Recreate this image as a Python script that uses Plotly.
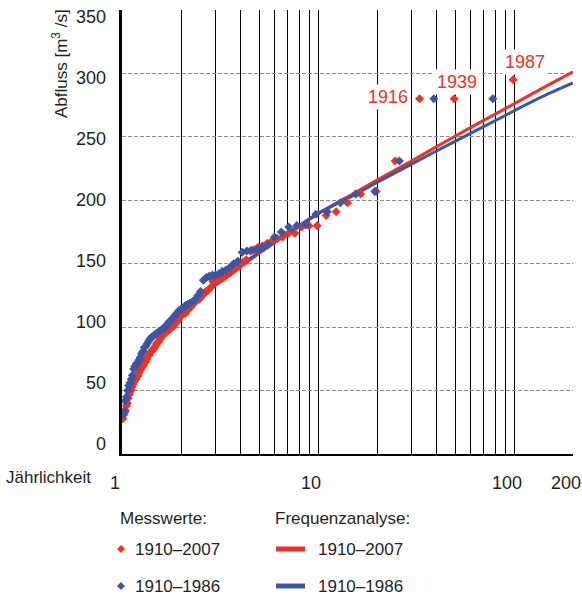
import numpy as np
import plotly.graph_objects as go

# Annual flood peaks (m3/s), sorted from largest to smallest
q_1910_2007 = [295, 280, 280, 231, 207, 205, 198, 191, 188, 180, 180, 179, 174, 174, 171, 170,
               168, 166, 164, 163, 161, 160, 153, 151, 150, 147, 145.5, 144.5, 143, 140.5, 138.5,
               137.5, 137, 136, 131, 129, 128, 126, 124, 122, 121, 120, 118, 116, 115, 113, 111,
               111, 110, 108, 106, 104, 103, 101, 100, 99, 98, 97, 96, 95, 94, 93, 91, 89, 88, 87,
               85, 83, 82, 81, 80, 78, 77, 75, 73, 72, 70, 69, 67, 66, 64, 62, 61, 59, 58, 57, 55,
               53, 51, 49, 47, 44, 40, 38, 34, 33, 31, 28]
q_1910_1986 = [280, 280, 231, 207, 205, 198, 191, 189, 180.5, 180, 179, 175, 171, 165, 163, 161,
               160.5, 160, 159, 152, 150, 147, 145, 144, 142, 141, 141, 140, 139, 137, 128, 125,
               122, 120, 119, 118, 117, 115, 114, 113, 111, 109, 107, 105, 104, 102, 100, 99, 98,
               97, 96, 95, 94, 93, 92, 91, 89, 87, 85, 84, 81, 79, 76, 74, 72, 71, 69, 67, 62, 59,
               56, 54, 50, 45, 42, 34, 31]

# Fitted frequency curves: return period (years) -> discharge (m3/s)
fit_t_2007 = [2.72, 3, 3.5, 4, 5, 6, 8, 10, 15, 20, 30, 50, 70, 100, 150, 200]
fit_q_2007 = [129, 133, 140, 147, 158, 166.5, 179.5, 189.5, 205, 216, 231, 250.5, 263, 276, 291, 301.2]
fit_t_1986 = [2.8, 3, 3.5, 4, 5, 6, 8, 10, 15, 20, 30, 50, 70, 100, 150, 200]
fit_q_1986 = [132, 134.5, 141.5, 148.5, 159, 167.5, 180, 189.5, 203.5, 214, 228.5, 246.5, 258, 270.5, 284, 292.5]

# Labelled flood years (rank in the 1910-2007 series)
flood_years = ["1987", "1939", "1916"]

x_ticks = [1, 10, 100, 200]
x_tick_text = ["1", "10", "100", "200"]
x_minor = [2, 3, 4, 5, 6, 7, 8, 9, 20, 30, 40, 50, 60, 70, 80, 90]
y_ticks = [0, 50, 100, 150, 200, 250, 300, 350]

RED = "#EE3224"
BLUE = "#3C55A5"
INK = "#231F20"
FONT = "Liberation Sans, Arial, sans-serif"


def return_period(values):
    """Weibull plotting position T = (n + 1) / rank for a descending series."""
    n = len(values)
    return [(n + 1) / rank for rank in range(1, n + 1)]


t_2007 = return_period(q_1910_2007)
t_1986 = return_period(q_1910_1986)

W, H = 582, 595
ML, MR, MT, MB = 122, 9, 10, 141
PW, PH = W - ML - MR, H - MT - MB


def px_x(px):
    return (px - ML) / PW


def px_y(py):
    return 1 - (py - MT) / PH


fig = go.Figure()

fig.add_trace(go.Scatter(x=fit_t_2007, y=fit_q_2007, mode="lines",
                         line=dict(color=RED, width=3, shape="spline", smoothing=0.6),
                         showlegend=False, hoverinfo="skip"))
fig.add_trace(go.Scatter(x=fit_t_1986, y=fit_q_1986, mode="lines",
                         line=dict(color=BLUE, width=3, shape="spline", smoothing=0.6),
                         showlegend=False, hoverinfo="skip"))
fig.add_trace(go.Scatter(x=t_2007, y=q_1910_2007, mode="markers",
                         marker=dict(symbol="diamond", size=7, color=RED),
                         showlegend=False))
fig.add_trace(go.Scatter(x=t_1986, y=q_1910_1986, mode="markers",
                         marker=dict(symbol="diamond", size=7, color=BLUE),
                         showlegend=False))
# carrier for the tick-label axis
fig.add_trace(go.Scatter(x=[1], y=[None], yaxis="y2", mode="markers",
                         showlegend=False, hoverinfo="skip"))

annotations = []
# year labels beside the three largest floods
offsets = [dict(xanchor="center", xshift=12, yshift=18),
           dict(xanchor="center", xshift=3, yshift=17),
           dict(xanchor="right", xshift=-9, yshift=2)]
for i, (year, off) in enumerate(zip(flood_years, offsets)):
    annotations.append(dict(x=np.log10(t_2007[i]), y=q_1910_2007[i], xref="x", yref="y",
                            text=year, showarrow=False, yanchor="middle",
                            bgcolor="white", borderpad=2,
                            font=dict(family=FONT, size=18, color=RED),
                            **off))

annotations.append(dict(x=px_x(60), y=px_y(63), xref="paper", yref="paper",
                        text="Abfluss [m<sup>3</sup> /s]", textangle=-90, showarrow=False,
                        xanchor="center", yanchor="middle",
                        font=dict(family=FONT, size=17, color=INK)))
annotations.append(dict(x=px_x(93), y=px_y(477), xref="paper", yref="paper",
                        text="Jährlichkeit", showarrow=False, xanchor="right", yanchor="middle",
                        font=dict(family=FONT, size=17, color=INK)))

# legend: headers, entries and swatches
legend_rows = [(549, RED, "1910–2007"), (586, BLUE, "1910–1986")]
for txt, left in [("Messwerte:", 118), ("Frequenzanalyse:", 273)]:
    annotations.append(dict(x=px_x(left), y=px_y(518), xref="paper", yref="paper", text=txt,
                            showarrow=False, xanchor="left", yanchor="middle",
                            font=dict(family=FONT, size=17, color=INK)))
shapes = []
for row_y, col, label in legend_rows:
    shapes.append(dict(type="path", xref="paper", yref="paper", xsizemode="pixel", ysizemode="pixel",
                       xanchor=px_x(121), yanchor=px_y(row_y), path="M -4 0 L 0 4 L 4 0 L 0 -4 Z",
                       fillcolor=col, line=dict(width=0)))
    shapes.append(dict(type="line", xref="paper", yref="paper", x0=px_x(276), x1=px_x(305),
                       y0=px_y(row_y), y1=px_y(row_y), line=dict(color=col, width=5)))
    for left in (133, 316):
        annotations.append(dict(x=px_x(left), y=px_y(row_y), xref="paper", yref="paper", text=label,
                                showarrow=False, xanchor="left", yanchor="middle",
                                font=dict(family=FONT, size=17, color=INK)))

fig.update_layout(
    width=W, height=H, margin=dict(l=ML, r=MR, t=MT, b=MB),
    paper_bgcolor="white", plot_bgcolor="white",
    template="none", showlegend=False,
    font=dict(family=FONT, size=18, color=INK),
    xaxis=dict(type="log", range=[0, 2.30103], tickvals=x_ticks, ticktext=x_tick_text,
               tickangle=0, showgrid=True, gridcolor="black", gridwidth=1, zeroline=False,
               showline=True, linecolor="black", linewidth=2, ticks="",
               minor=dict(tickvals=x_minor, showgrid=True, gridcolor="black", gridwidth=1, ticks=""),
               ticklabelshift=-7, ticklabelstandoff=11,
               tickfont=dict(family=FONT, size=18, color=INK)),
    yaxis=dict(range=[0, 350], tickvals=y_ticks, showticklabels=False,
               showgrid=True, gridcolor="#8C8C8C", gridwidth=1, griddash="4px,2px",
               zeroline=False, showline=True, linecolor="black", linewidth=3, ticks=""),
    yaxis2=dict(overlaying="y", side="left", range=[-8.19, 355.5], tickvals=y_ticks,
                showgrid=False, zeroline=False, showline=False, ticks="",
                ticklabelstandoff=15, tickfont=dict(family=FONT, size=18, color=INK)),
    annotations=annotations, shapes=shapes,
)

fig.write_html("out.html")
